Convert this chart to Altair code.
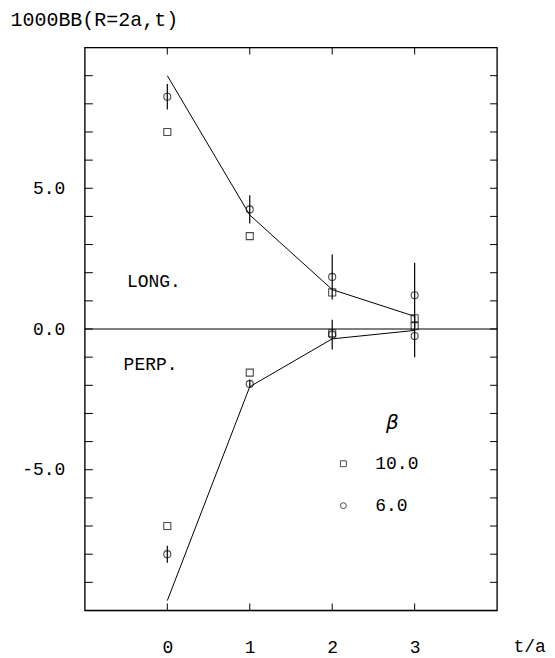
import altair as alt
import pandas as pd

# ---- data ----
t_vals = [0, 1, 2, 3]
long_b10 = [7.0, 3.3, 1.3, 0.38]
long_b6 = [8.25, 4.25, 1.85, 1.2]
long_b6_err = [0.45, 0.5, 0.8, 1.15]
perp_b10 = [-7.0, -1.55, -0.15, 0.1]
perp_b6 = [-8.0, -1.95, -0.2, -0.25]
perp_b6_err = [0.3, 0.15, 0.53, 0.75]
long_curve = [9.0, 4.05, 1.4, 0.45]
perp_curve = [-9.65, -2.05, -0.35, -0.05]

beta_labels = ["10.0", "6.0"]
x_ticks = [0, 1, 2, 3]
y_minor = list(range(-9, 10))
y_labels = [-5, 0, 5]

ann_text = ["LONG.", "PERP."]
ann_x = [-0.49, -0.53]
ann_y = [1.66, -1.27]
beta_title_x = [2.73]
beta_title_y = [-3.33]

FONT = "Liberation Mono"
W, H = 413, 564

# ---- tables ----
pts = []
for i, t in enumerate(t_vals):
    pts.append({"t": t, "v": long_b10[i], "beta": "10.0", "lo": None, "hi": None})
    pts.append({"t": t, "v": perp_b10[i], "beta": "10.0", "lo": None, "hi": None})
    pts.append({"t": t, "v": long_b6[i], "beta": "6.0",
                "lo": long_b6[i] - long_b6_err[i], "hi": long_b6[i] + long_b6_err[i]})
    pts.append({"t": t, "v": perp_b6[i], "beta": "6.0",
                "lo": perp_b6[i] - perp_b6_err[i], "hi": perp_b6[i] + perp_b6_err[i]})
pts = pd.DataFrame(pts)
err = pts.dropna(subset=["lo"])

curves = pd.DataFrame(
    [{"t": t, "v": v, "s": "long"} for t, v in zip(t_vals, long_curve)]
    + [{"t": t, "v": v, "s": "perp"} for t, v in zip(t_vals, perp_curve)]
)
ann = pd.DataFrame({"text": ann_text, "x": ann_x, "y": ann_y})
beta_df = pd.DataFrame({"text": ["β"], "x": beta_title_x, "y": beta_title_y})
xt = pd.DataFrame({"t": x_ticks})
yt = pd.DataFrame({"v": y_minor})

xs = alt.Scale(domain=[-1, 4], nice=False, zero=False)
ys = alt.Scale(domain=[-10, 10], nice=False, zero=False)

x_axis = alt.Axis(values=x_ticks, format="d", ticks=False, domain=False, grid=False,
                  labelPadding=28, labelFontSize=18, labelFont=FONT, labelColor="black",
                  title="t/a", titleFont=FONT, titleFontSize=18, titleFontWeight="normal",
                  titleColor="black", titleAngle=0, titleAlign="left", titleBaseline="middle",
                  titleX=W + 16, titleY=36)
y_axis = alt.Axis(values=y_labels, ticks=False, domain=False, grid=False,
                  labelPadding=20, labelFontSize=18, labelFont=FONT, labelColor="black",
                  labelExpr="datum.value < 0 ? '-' + format(-datum.value, '.1f') : format(datum.value, '.1f')",
                  title="1000BB(R=2a,t)", titleFont=FONT, titleFontSize=20,
                  titleFontWeight="normal", titleColor="black", titleAngle=0,
                  titleAlign="left", titleBaseline="middle", titleX=-75, titleY=-28)

base_axes = alt.Chart(xt).mark_point(opacity=0).encode(
    x=alt.X("t:Q", scale=xs, axis=x_axis),
    y=alt.Y("t:Q", scale=ys, axis=y_axis),
)

frame = alt.Chart(pd.DataFrame({"a": [0]})).mark_rect(
    fill=None, stroke="black", strokeWidth=1.3).encode(
    x=alt.value(0), x2=alt.value(W), y=alt.value(0), y2=alt.value(H))

zero = alt.Chart(pd.DataFrame({"z": [0]})).mark_rule(color="black", strokeWidth=1.2).encode(
    y=alt.Y("z:Q", scale=ys)
)

left_ticks = alt.Chart(yt).mark_rule(color="black", strokeWidth=1).encode(
    y=alt.Y("v:Q", scale=ys), x=alt.value(0), x2=alt.value(8))
right_ticks = alt.Chart(yt).mark_rule(color="black", strokeWidth=1).encode(
    y=alt.Y("v:Q", scale=ys), x=alt.value(W - 7), x2=alt.value(W))
bot_ticks = alt.Chart(xt).mark_rule(color="black", strokeWidth=1).encode(
    x=alt.X("t:Q", scale=xs), y=alt.value(H - 7), y2=alt.value(H))
top_ticks = alt.Chart(xt).mark_rule(color="black", strokeWidth=1).encode(
    x=alt.X("t:Q", scale=xs), y=alt.value(0), y2=alt.value(7))

lines = alt.Chart(curves).mark_line(color="black", strokeWidth=1).encode(
    x=alt.X("t:Q", scale=xs), y=alt.Y("v:Q", scale=ys), detail="s:N")

bars = alt.Chart(err).mark_rule(color="black", strokeWidth=1.2).encode(
    x=alt.X("t:Q", scale=xs), y=alt.Y("lo:Q", scale=ys), y2="hi:Q")

points = alt.Chart(pts).mark_point(filled=False, color="black", strokeWidth=1.1, size=50).encode(
    x=alt.X("t:Q", scale=xs),
    y=alt.Y("v:Q", scale=ys),
    shape=alt.Shape("beta:N", scale=alt.Scale(domain=beta_labels, range=["square", "circle"]),
                    legend=alt.Legend(title=None, orient="none", legendX=250, legendY=408,
                                      padding=0,
                                      labelFont=FONT, labelFontSize=18, labelColor="black",
                                      labelOffset=23, rowPadding=24, symbolSize=35,
                                      symbolStrokeColor="black", symbolStrokeWidth=1,
                                      symbolFillColor="transparent")),
)

text = alt.Chart(ann).mark_text(font=FONT, fontSize=18, align="left", baseline="middle",
                                color="black").encode(
    x=alt.X("x:Q", scale=xs), y=alt.Y("y:Q", scale=ys), text="text:N")

beta_text = alt.Chart(beta_df).mark_text(font="DejaVu Sans", fontSize=20, fontStyle="italic",
                                         align="center", baseline="middle", color="black").encode(
    x=alt.X("x:Q", scale=xs), y=alt.Y("y:Q", scale=ys), text="text:N")

chart = alt.layer(base_axes, frame, zero, left_ticks, right_ticks, bot_ticks, top_ticks,
                  lines, bars, points, text, beta_text).properties(
    width=W, height=H,
    autosize=alt.AutoSizeParams(type="none"),
    padding={"left": 77, "top": 39, "right": 50, "bottom": 50},
).configure_view(stroke=None).configure(background="white")

chart.save("out.html", embed_options={"renderer": "svg", "actions": False})
